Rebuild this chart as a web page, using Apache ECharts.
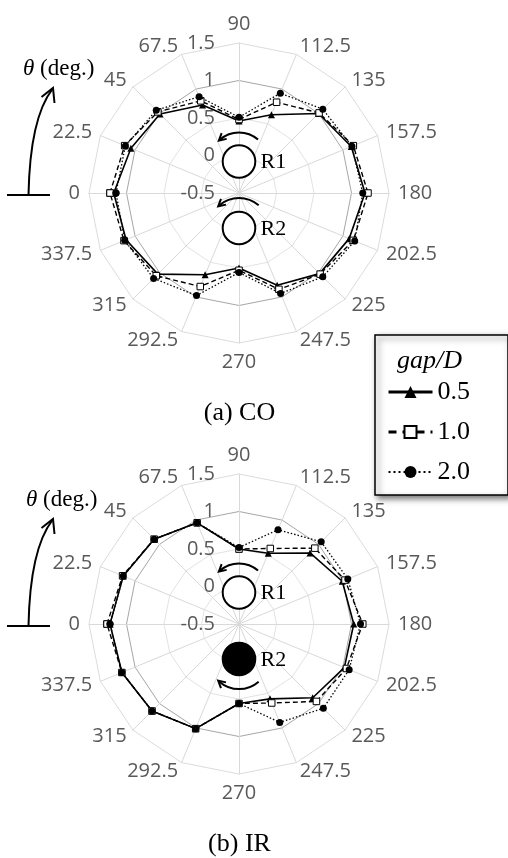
<!DOCTYPE html>
<html>
<head>
<meta charset="utf-8">
<script src="https://cdn.jsdelivr.net/npm/echarts@6/dist/echarts.min.js"></script>
<style>
  html, body { margin: 0; padding: 0; background: #fff; }
  #chart { width: 508px; height: 858px; }
</style>
</head>
<body>
<div id="chart"></div>
<script>
// Spoke angles (degrees), counted clockwise from the left-hand spoke
const angles = [0, 22.5, 45, 67.5, 90, 112.5, 135, 157.5, 180, 202.5, 225, 247.5, 270, 292.5, 315, 337.5];
const radialTicks = [-0.5, 0, 0.5, 1, 1.5];
const gapNames = ['0.5', '1.0', '2.0'];

// (a) CO - co-rotating pair, one value per spoke angle above
const coGap05 = [1.17, 1.06, 0.99, 0.77, 0.46, 0.63, 1.00, 1.12, 1.18, 1.09, 1.02, 0.83, 0.50, 0.68, 1.03, 1.13];
const coGap10 = [1.22, 1.15, 1.03, 0.83, 0.48, 0.81, 1.01, 1.15, 1.22, 1.15, 1.03, 0.89, 0.53, 0.85, 1.06, 1.16];
const coGap20 = [1.14, 1.14, 1.06, 0.89, 0.51, 0.94, 1.08, 1.13, 1.15, 1.17, 1.08, 0.95, 0.56, 0.98, 1.11, 1.15];

// (b) IR - inverse-rotating pair
const irGap05 = [1.22, 1.17, 1.10, 0.96, 0.50, 0.52, 0.84, 0.99, 1.03, 1.02, 0.89, 0.58, 0.56, 1.01, 1.14, 1.19];
const irGap10 = [1.26, 1.18, 1.10, 0.96, 0.50, 0.59, 0.93, 1.03, 1.15, 1.05, 0.96, 0.64, 0.56, 1.01, 1.14, 1.19];
const irGap20 = [1.22, 1.17, 1.10, 0.96, 0.52, 0.86, 1.05, 1.07, 1.12, 1.09, 1.09, 0.92, 0.56, 1.01, 1.14, 1.19];

const panels = [
  { center: [239, 193], caption: '(a) CO', data: [coGap05, coGap10, coGap20], r2Filled: false },
  { center: [239, 624], caption: '(b) IR', data: [irGap05, irGap10, irGap20], r2Filled: true }
];
const R = 150;
const GRAY = '#595959';
const SERIF = '"Liberation Serif", "Times New Roman", serif';
const SANS = '"Open Sans", "Noto Sans", sans-serif';

// Radar indicators run counter-clockwise from the top spoke
const indicatorAngles = angles.map((_, i) => (90 - i * 22.5 + 360) % 360);
function makeIndicators() {
  return indicatorAngles.map((a, i) => {
    const ind = { name: String(a), min: radialTicks[0], max: radialTicks[radialTicks.length - 1] };
    if (i === 0) ind.axisLabel = { show: true };
    return ind;
  });
}

const styles = [
  { symbol: 'triangle', symbolSize: 7, line: { color: '#000', width: 1.6, type: 'solid' }, item: { color: '#000' } },
  { symbol: 'rect', symbolSize: 6.5, line: { color: '#000', width: 1.4, type: [5, 3] }, item: { color: '#fff', borderColor: '#000', borderWidth: 1 } },
  { symbol: 'circle', symbolSize: 7, line: { color: '#000', width: 1.3, type: [1.5, 2] }, item: { color: '#000' } }
];

const radars = [], polars = [], angleAxes = [], radiusAxes = [], series = [], graphics = [];

function rot(v, t) { return [v[0] * Math.cos(t) - v[1] * Math.sin(t), v[0] * Math.sin(t) + v[1] * Math.cos(t)]; }
function arrowHead(tip, dir, len, spread) {
  const back = [-dir[0], -dir[1]];
  const b1 = rot(back, spread), b2 = rot(back, -spread);
  return {
    type: 'polyline', z: 100,
    shape: { points: [[tip[0] + b1[0] * len, tip[1] + b1[1] * len], tip, [tip[0] + b2[0] * len, tip[1] + b2[1] * len]] },
    style: { stroke: '#000', lineWidth: 2, fill: null }
  };
}
// Rotation arrow around a cylinder; the head sits at angle `headDeg`
function rotationArrow(cx, cy, r, fromDeg, toDeg, headDeg, headDir) {
  const d2r = Math.PI / 180;
  const a = headDeg * d2r;
  const p = [cx + r * Math.cos(a), cy + r * Math.sin(a)];
  // headDir = -1: head points towards decreasing angle, +1: increasing
  const dir = headDir < 0 ? [Math.sin(a), -Math.cos(a)] : [-Math.sin(a), Math.cos(a)];
  return [
    { type: 'arc', z: 100, shape: { cx, cy, r, startAngle: fromDeg * d2r, endAngle: toDeg * d2r, clockwise: true },
      style: { stroke: '#000', lineWidth: 2, fill: null } },
    arrowHead([p[0] + dir[0] * 1.5, p[1] + dir[1] * 1.5], dir, 8, 0.5)
  ];
}

panels.forEach((pnl, k) => {
  const [cx, cy] = pnl.center;
  radars.push({
    center: [cx, cy], radius: R, shape: 'polygon', startAngle: 90, splitNumber: 4,
    indicator: makeIndicators(),
    nameGap: 9,
    axisName: { color: GRAY, fontSize: 20, fontFamily: SANS },
    axisLine: { lineStyle: { color: '#d9d9d9', width: 1 } },
    axisTick: { show: false },
    axisLabel: { show: false, color: GRAY, fontSize: 20, fontFamily: SANS, margin: 24 },
    splitLine: { lineStyle: { color: ['#e3e3e3', '#e3e3e3', '#e3e3e3', '#a6a6a6', '#dcdcdc'], width: 1 } },
    splitArea: { show: false }
  });
  polars.push({ center: [cx, cy], radius: R });
  angleAxes.push({ polarIndex: k, type: 'value', min: 0, max: 360, startAngle: 180, clockwise: true, show: false });
  radiusAxes.push({ polarIndex: k, type: 'value', min: radialTicks[0], max: radialTicks[radialTicks.length - 1], show: false });

  pnl.data.forEach((vals, s) => {
    const st = styles[s];
    const pts = vals.map((v, i) => [v, angles[i]]);
    pts.push([vals[0], 360]);
    series.push({
      type: 'line', name: gapNames[s], coordinateSystem: 'polar', polarIndex: k,
      data: pts, symbol: st.symbol, symbolSize: st.symbolSize, showSymbol: true,
      lineStyle: st.line, itemStyle: st.item, z: 3 + s, animation: false, silent: true
    });
  });

  // cylinders R1 and R2 with their rotation arrows
  const c1 = [cx + 0, cy - 31.5], c2 = [cx + 0, cy + 35];
  graphics.push({ type: 'circle', z: 100, shape: { cx: c1[0], cy: c1[1], r: 16.3 }, style: { fill: '#fff', stroke: '#000', lineWidth: 2 } });
  graphics.push({ type: 'circle', z: 100, shape: { cx: c2[0], cy: c2[1], r: 16.3 }, style: { fill: pnl.r2Filled ? '#000' : '#fff', stroke: '#000', lineWidth: 2 } });
  graphics.push({ type: 'text', z: 100, x: c1[0] + 21.5, y: c1[1] + 1, style: { text: 'R1', font: '22px ' + SERIF, fill: '#000', verticalAlign: 'middle' } });
  graphics.push({ type: 'text', z: 100, x: c2[0] + 21.5, y: c2[1] + 1, style: { text: 'R2', font: '22px ' + SERIF, fill: '#000', verticalAlign: 'middle' } });
  graphics.push(...rotationArrow(c1[0], c1[1], 29, -131, -49, -131, -1));
  if (pnl.r2Filled) graphics.push(...rotationArrow(c2[0], c2[1], 30, 49, 131, 131, 1));
  else graphics.push(...rotationArrow(c2[0], c2[1], 30, -131, -49, -131, -1));

  // theta direction marker
  graphics.push({ type: 'line', z: 100, shape: { x1: 7, y1: cy + 2, x2: 50, y2: cy + 2 }, style: { stroke: '#000', lineWidth: 2 } });
  graphics.push({ type: 'bezierCurve', z: 100, shape: { x1: 28.5, y1: cy + 2, cpx1: 30, cpy1: cy - 75, x2: 52.5, y2: cy - 104 },
    style: { stroke: '#000', lineWidth: 2, fill: null } });
  graphics.push({ type: 'polyline', z: 100, shape: { points: [[41.5, cy - 96], [53, cy - 105], [54.5, cy - 90]] },
    style: { stroke: '#000', lineWidth: 2, fill: null } });
  graphics.push({ type: 'text', z: 100, x: 23 + k * 3, y: cy - 124, style: {
    text: '{i|θ} (deg.)', font: '23px ' + SERIF, fill: '#000', verticalAlign: 'middle',
    rich: { i: { fontStyle: 'italic', fontSize: 23, fontFamily: SERIF } } } });

  // panel caption
  graphics.push({ type: 'text', z: 100, x: 239.5, y: cy + 220, style: {
    text: pnl.caption, font: '26px ' + SERIF, fill: '#000', align: 'center', verticalAlign: 'middle' } });
});

const chart = echarts.init(document.getElementById('chart'), null, { renderer: 'canvas' });
chart.setOption({
  animation: false,
  backgroundColor: '#fff',
  title: {
    text: 'gap/D', left: 397, top: 348, padding: 0, z: 10,
    textStyle: { fontFamily: SERIF, fontStyle: 'italic', fontWeight: 'normal', fontSize: 26, color: '#000' }
  },
  legend: {
    orient: 'vertical', left: 375, top: 335,
    padding: [42, 38, 8, 12],
    itemWidth: 44, itemHeight: 15, itemGap: 10,
    backgroundColor: '#fff', borderColor: '#000', borderWidth: 1.5,
    shadowBlur: 6, shadowColor: 'rgba(0,0,0,0.55)', shadowOffsetX: 3, shadowOffsetY: 3,
    textStyle: { fontFamily: SERIF, fontSize: 26, color: '#000', lineHeight: 30 },
    data: [
      { name: gapNames[0], lineStyle: { width: 3 } },
      { name: gapNames[1], lineStyle: { width: 3, type: [8, 6] } },
      { name: gapNames[2], lineStyle: { width: 2, type: [2, 3] } }
    ],
    selectedMode: false
  },
  radar: radars,
  polar: polars,
  angleAxis: angleAxes,
  radiusAxis: radiusAxes,
  series: series,
  graphic: graphics
});
</script>
</body>
</html>
